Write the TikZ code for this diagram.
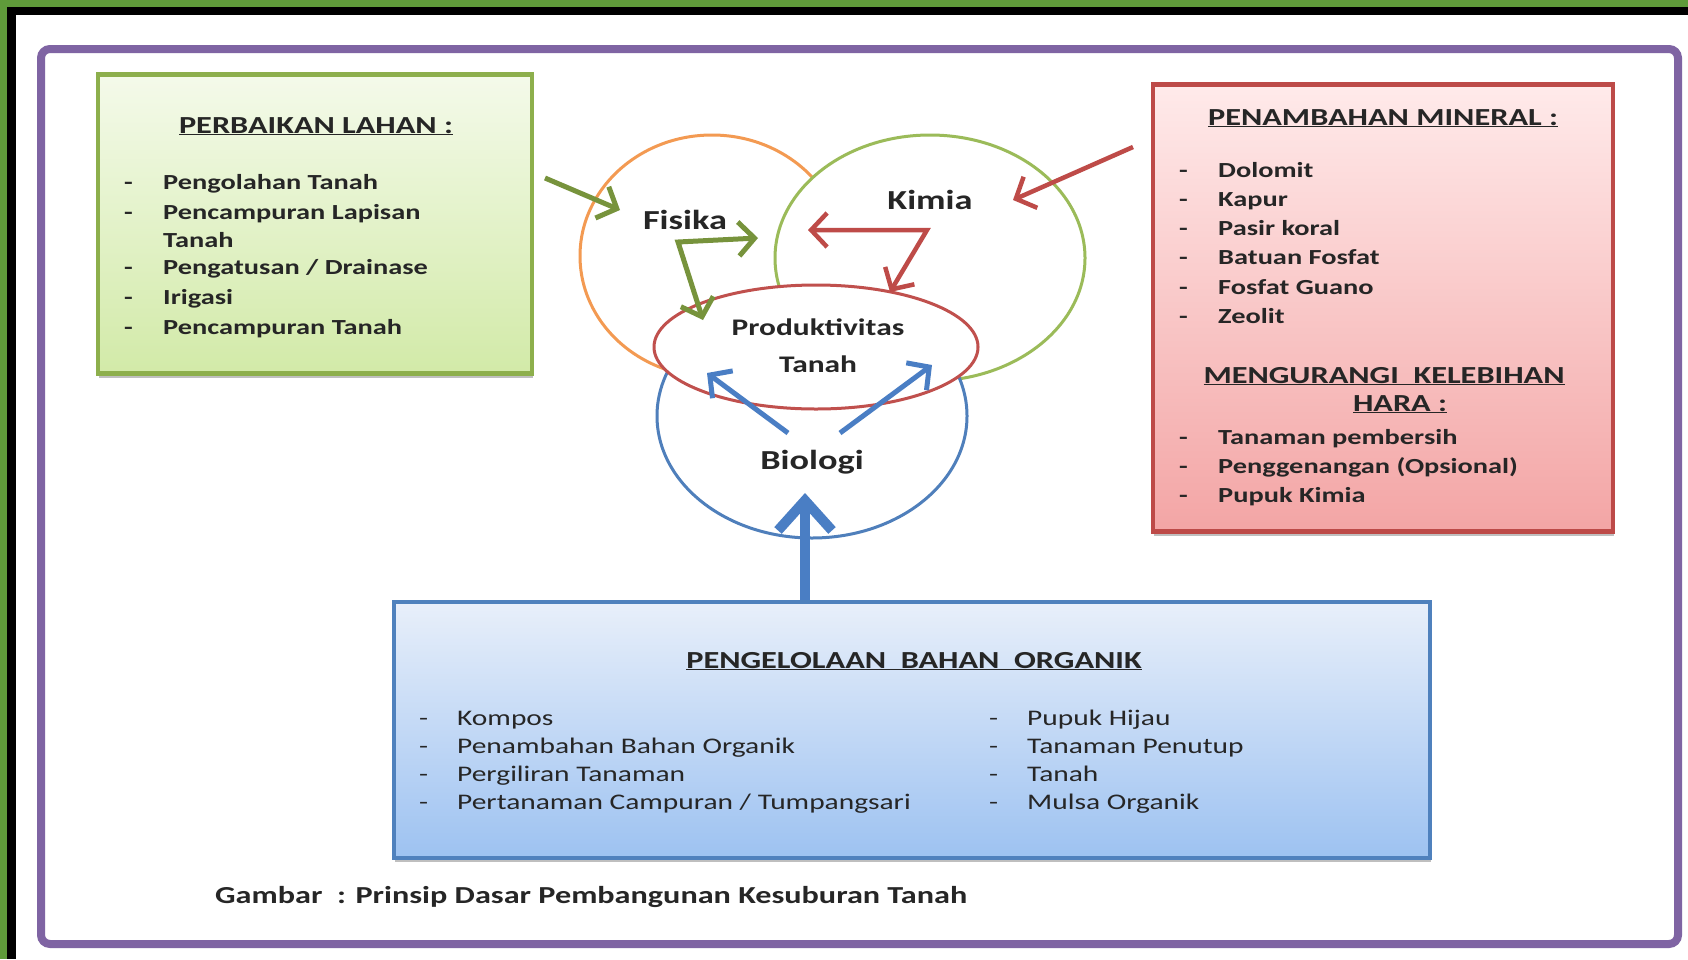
\documentclass[tikz,border=0pt]{standalone}
\usepackage{fontspec}
\setmainfont{Carlito}[FakeStretch=1.32]
\usetikzlibrary{arrows.meta,shadows}

\definecolor{outgreen}{HTML}{5F9B3A}
\definecolor{frpurple}{HTML}{7F64A3}
\definecolor{fisorange}{HTML}{F39A52}
\definecolor{kimgreen}{HTML}{9BBB59}
\definecolor{bioblue}{HTML}{4F7FBB}
\definecolor{prodred}{HTML}{C0504D}
\definecolor{arrgreen}{HTML}{77933C}
\definecolor{arrred}{HTML}{BE4B48}
\definecolor{arrblue}{HTML}{4A7EC4}
\definecolor{lahanline}{HTML}{8DAF4C}
\definecolor{lahantop}{HTML}{F4FAEA}
\definecolor{lahanbot}{HTML}{D2EAA8}
\definecolor{mineralline}{HTML}{BD4A48}
\definecolor{mineraltop}{HTML}{FFEAEA}
\definecolor{mineralbot}{HTML}{F3A5A5}
\definecolor{organikline}{HTML}{4F81BD}
\definecolor{organiktop}{HTML}{E8EFFA}
\definecolor{organikbot}{HTML}{9DC2F1}

\begin{document}
\begin{tikzpicture}[x=1pt, y=-1pt,
    >={Straight Barb[length=16pt, width=34pt]},
    venn/.style={line width=3pt, fill=white},
    box/.style={line width=4.5pt, inner sep=0pt,
      drop shadow={shadow xshift=1pt, shadow yshift=-4pt, opacity=.5}},
    headtxt/.style={inner sep=0pt, text height=16pt, text depth=0pt,
      font=\fontsize{24.5}{29}\selectfont\bfseries, text=black!85},
    listtxt/.style={anchor=west, inner sep=0pt, text height=14pt, text depth=0pt,
      font=\fontsize{21.5}{26}\selectfont\bfseries, text=black!85},
    bluetxt/.style={listtxt, font=\fontsize{22.3}{26}\selectfont},
    circtxt/.style={inner sep=0pt, text height=18pt, text depth=0pt,
      font=\fontsize{27.5}{32}\selectfont\bfseries, text=black!85},
  ]
  \useasboundingbox (0,0) rectangle (1688,959);
  \fill[white] (0,0) rectangle (1688,959);

  % outer border
  \fill[outgreen] (0,0) rectangle (1688,7);
  \fill[outgreen] (0,0) rectangle (7,959);
  \fill[black] (7,7) rectangle (1688,15);
  \fill[black] (7,7) rectangle (16,959);
  \draw[frpurple, line width=8pt, rounded corners=9pt] (41,49) rectangle (1678,944);

  % boxes
  \node[box, draw=lahanline, top color=lahantop, bottom color=lahanbot,
    minimum width=434pt, minimum height=299pt] (lahan) at (315,224) {};
  \node[box, draw=mineralline, top color=mineraltop, bottom color=mineralbot,
    minimum width=460pt, minimum height=447pt] (mineral) at (1383,308) {};
  \node[box, draw=organikline, top color=organiktop, bottom color=organikbot,
    minimum width=1036pt, minimum height=256pt] (organik) at (912,730) {};

  % perbaikan lahan
  \node[headtxt] (lahanT) at (316,125) {\underline{PERBAIKAN LAHAN :}};
  \foreach \y [count=\i] in {182,212,267,297,327}
    \node[listtxt] (lahanD\i) at (124,\y) {-};
  \node[listtxt] (lahan1) at (163,182) {Pengolahan Tanah};
  \node[listtxt] (lahan2) at (163,212) {Pencampuran Lapisan};
  \node[listtxt] (lahan2b) at (163,240) {Tanah};
  \node[listtxt] (lahan3) at (163,267) {Pengatusan / Drainase};
  \node[listtxt] (lahan4) at (163,297) {Irigasi};
  \node[listtxt] (lahan5) at (163,327) {Pencampuran Tanah};

  % penambahan mineral
  \node[headtxt] (mineralT) at (1383,117) {\underline{PENAMBAHAN MINERAL :}};
  \foreach \t [count=\i] in {Dolomit, Kapur, Pasir koral, Batuan Fosfat, Fosfat Guano, Zeolit} {
    \node[listtxt] (mineralD\i) at (1179,{170+29.3*(\i-1)}) {-};
    \node[listtxt] (mineral\i) at (1218,{170+29.3*(\i-1)}) {\t};
  }
  \node[headtxt] (haraT) at (1384,375) {\underline{MENGURANGI\ \ KELEBIHAN}};
  \node[headtxt] (haraT2) at (1400,403) {\underline{HARA :}};
  \foreach \t [count=\i] in {Tanaman pembersih, Penggenangan (Opsional), Pupuk Kimia} {
    \node[listtxt] (haraD\i) at (1179,{437+29*(\i-1)}) {-};
    \node[listtxt] (hara\i) at (1218,{437+29*(\i-1)}) {\t};
  }

  % pengelolaan bahan organik
  \node[headtxt] (organikT) at (914,660) {\underline{PENGELOLAAN\ \ BAHAN\ \ ORGANIK}};
  \foreach \t [count=\i] in {Kompos, Penambahan Bahan Organik, Pergiliran Tanaman,
      Pertanaman Campuran / Tumpangsari} {
    \node[bluetxt] (orgLD\i) at (419,{718+28.3*(\i-1)}) {-};
    \node[bluetxt] (orgL\i) at (457,{718+28.3*(\i-1)}) {\t};
  }
  \foreach \t [count=\i] in {Pupuk Hijau, Tanaman Penutup, Tanah, Mulsa Organik} {
    \node[bluetxt] (orgRD\i) at (989,{718+28.3*(\i-1)}) {-};
    \node[bluetxt] (orgR\i) at (1027,{718+28.3*(\i-1)}) {\t};
  }

  % venn circles
  \draw[venn, draw=fisorange] (712,256) ellipse [x radius=132, y radius=121];
  \draw[venn, draw=kimgreen] (930,258) ellipse [x radius=155, y radius=123];
  \draw[venn, draw=bioblue] (812,416) ellipse [x radius=155, y radius=122];
  \draw[venn, draw=prodred] (816,347) ellipse [x radius=162, y radius=62];

  \node[circtxt] (fisika) at (685,220) {Fisika};
  \node[circtxt] (kimia) at (930,200) {Kimia};
  \node[circtxt] (biologi) at (812,460) {Biologi};
  \node[headtxt, font=\fontsize{23.8}{28}\selectfont\bfseries, text height=15pt] (prod) at (818,328) {Produktivitas};
  \node[headtxt, font=\fontsize{23.8}{28}\selectfont\bfseries, text height=15pt] (tanah) at (818,365) {Tanah};

  % arrows
  \coordinate (fisIn) at (545,178);
  \coordinate (fisInTip) at (620,210);
  \coordinate (fisR) at (758,238);
  \coordinate (fisC) at (678,242);
  \coordinate (fisD) at (703,320);
  \coordinate (kimIn) at (1133,147);
  \coordinate (kimInTip) at (1013,200);
  \coordinate (kimL) at (808,230);
  \coordinate (kimC) at (927,230);
  \coordinate (kimD) at (890,292);
  \coordinate (bioL) at (788,433);
  \coordinate (bioLTip) at (707,373);
  \coordinate (bioR) at (840,433);
  \coordinate (bioRTip) at (932,365);
  \coordinate (bioTip) at (805,493);

  \draw[->, arrgreen, line width=5pt] (fisIn) -- (fisInTip);
  \draw[<->, arrgreen, line width=5pt, line join=miter] (fisR) -- (fisC) -- (fisD);
  \draw[->, arrred, line width=4.5pt] (kimIn) -- (kimInTip);
  \draw[<->, arrred, line width=4.5pt, line join=miter] (kimL) -- (kimC) -- (kimD);
  \draw[->, arrblue, line width=5pt] (bioL) -- (bioLTip);
  \draw[->, arrblue, line width=5pt] (bioR) -- (bioRTip);
  \draw[-{Straight Barb[length=30pt, width=54pt]}, arrblue, line width=10pt]
    (bioTip |- organik.north) -- (bioTip);

  \node[listtxt, font=\fontsize{24.4}{28}\selectfont\bfseries] (caption) at (215,896)
    {Gambar\ \ : Prinsip Dasar Pembangunan Kesuburan Tanah};
\end{tikzpicture}
\end{document}
